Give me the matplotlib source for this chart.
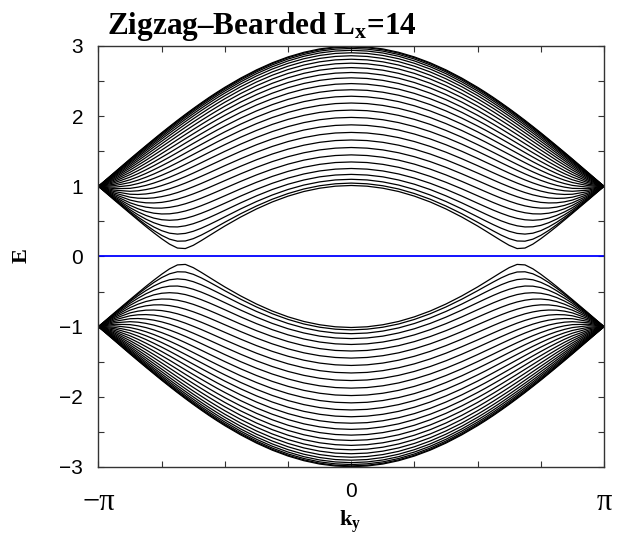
import numpy as np
import matplotlib
matplotlib.use("Agg")
import matplotlib.pyplot as plt
import matplotlib.transforms as mtransforms

# -----------------------------
# Band data (E > 0 branch), ky from 0 to pi
# -----------------------------
ky_over_pi = [0.0, 0.0625, 0.125, 0.1875, 0.25, 0.3125, 0.375, 0.4375, 0.5,
              0.53125, 0.5625, 0.59375, 0.625, 0.65625, 0.6875, 0.71875, 0.75,
              0.78125, 0.8125, 0.84375, 0.875, 0.9375, 1.0]

upper_bands = [
    [2.996, 2.986, 2.958, 2.910, 2.844, 2.760, 2.659, 2.542, 2.411, 2.340, 2.266, 2.188, 2.108, 2.025, 1.940, 1.852, 1.763, 1.671, 1.578, 1.484, 1.389, 1.195, 1.000],
    [2.984, 2.975, 2.946, 2.898, 2.833, 2.749, 2.648, 2.532, 2.400, 2.330, 2.256, 2.179, 2.099, 2.016, 1.931, 1.844, 1.755, 1.664, 1.572, 1.478, 1.384, 1.192, 1.000],
    [2.965, 2.955, 2.927, 2.879, 2.814, 2.730, 2.630, 2.514, 2.383, 2.313, 2.239, 2.163, 2.083, 2.001, 1.917, 1.831, 1.743, 1.653, 1.561, 1.469, 1.375, 1.187, 1.000],
    [2.938, 2.928, 2.900, 2.853, 2.787, 2.704, 2.605, 2.489, 2.359, 2.290, 2.216, 2.141, 2.062, 1.981, 1.897, 1.812, 1.725, 1.636, 1.546, 1.455, 1.364, 1.181, 1.000],
    [2.903, 2.894, 2.865, 2.818, 2.753, 2.671, 2.572, 2.458, 2.329, 2.260, 2.187, 2.112, 2.034, 1.954, 1.872, 1.788, 1.702, 1.615, 1.527, 1.438, 1.349, 1.172, 1.000],
    [2.861, 2.851, 2.823, 2.777, 2.712, 2.630, 2.532, 2.419, 2.292, 2.223, 2.152, 2.078, 2.001, 1.922, 1.841, 1.759, 1.675, 1.590, 1.504, 1.418, 1.332, 1.162, 1.000],
    [2.811, 2.802, 2.774, 2.728, 2.664, 2.583, 2.486, 2.374, 2.248, 2.180, 2.110, 2.037, 1.962, 1.884, 1.805, 1.724, 1.642, 1.560, 1.476, 1.393, 1.311, 1.150, 1.000],
    [2.755, 2.746, 2.718, 2.672, 2.609, 2.529, 2.433, 2.322, 2.198, 2.131, 2.062, 1.990, 1.917, 1.841, 1.763, 1.685, 1.605, 1.525, 1.445, 1.366, 1.287, 1.137, 1.000],
    [2.692, 2.682, 2.655, 2.610, 2.547, 2.468, 2.373, 2.264, 2.142, 2.076, 2.008, 1.938, 1.866, 1.792, 1.717, 1.640, 1.564, 1.487, 1.410, 1.335, 1.261, 1.122, 1.000],
    [2.622, 2.613, 2.586, 2.541, 2.479, 2.401, 2.307, 2.200, 2.080, 2.015, 1.949, 1.880, 1.810, 1.738, 1.665, 1.591, 1.517, 1.444, 1.371, 1.301, 1.232, 1.105, 1.000],
    [2.546, 2.537, 2.510, 2.466, 2.405, 2.327, 2.235, 2.129, 2.012, 1.949, 1.884, 1.817, 1.748, 1.679, 1.608, 1.538, 1.467, 1.397, 1.329, 1.263, 1.200, 1.088, 1.000],
    [2.464, 2.455, 2.428, 2.385, 2.324, 2.248, 2.158, 2.054, 1.938, 1.877, 1.813, 1.748, 1.682, 1.615, 1.547, 1.479, 1.413, 1.347, 1.284, 1.223, 1.167, 1.069, 1.000],
    [2.376, 2.368, 2.341, 2.298, 2.239, 2.164, 2.074, 1.972, 1.859, 1.800, 1.738, 1.675, 1.611, 1.546, 1.481, 1.417, 1.354, 1.293, 1.235, 1.180, 1.131, 1.050, 1.000],
    [2.284, 2.275, 2.249, 2.207, 2.148, 2.074, 1.986, 1.886, 1.776, 1.717, 1.657, 1.596, 1.535, 1.473, 1.411, 1.350, 1.292, 1.236, 1.183, 1.135, 1.093, 1.029, 1.000],
    [2.187, 2.179, 2.153, 2.111, 2.053, 1.980, 1.893, 1.795, 1.687, 1.631, 1.572, 1.513, 1.454, 1.395, 1.337, 1.280, 1.226, 1.175, 1.129, 1.088, 1.054, 1.009, 1.000],
    [2.086, 2.078, 2.053, 2.011, 1.954, 1.882, 1.796, 1.700, 1.594, 1.539, 1.483, 1.426, 1.369, 1.313, 1.258, 1.206, 1.157, 1.112, 1.072, 1.039, 1.013, 0.987, 1.000],
    [1.982, 1.974, 1.949, 1.908, 1.851, 1.780, 1.696, 1.601, 1.498, 1.444, 1.390, 1.335, 1.281, 1.228, 1.177, 1.129, 1.085, 1.046, 1.013, 0.988, 0.971, 0.966, 1.000],
    [1.876, 1.868, 1.843, 1.802, 1.745, 1.675, 1.592, 1.499, 1.398, 1.345, 1.293, 1.240, 1.188, 1.138, 1.091, 1.048, 1.010, 0.977, 0.953, 0.936, 0.929, 0.945, 1.000],
    [1.768, 1.760, 1.735, 1.694, 1.638, 1.568, 1.486, 1.393, 1.294, 1.243, 1.192, 1.142, 1.093, 1.046, 1.003, 0.964, 0.932, 0.907, 0.891, 0.884, 0.887, 0.925, 1.000],
    [1.660, 1.652, 1.627, 1.586, 1.530, 1.460, 1.378, 1.286, 1.189, 1.139, 1.089, 1.040, 0.994, 0.950, 0.911, 0.878, 0.853, 0.835, 0.828, 0.831, 0.845, 0.905, 1.000],
    [1.553, 1.544, 1.519, 1.478, 1.422, 1.352, 1.270, 1.178, 1.081, 1.032, 0.983, 0.936, 0.892, 0.852, 0.817, 0.790, 0.771, 0.763, 0.765, 0.779, 0.804, 0.886, 1.000],
    [1.448, 1.439, 1.414, 1.373, 1.316, 1.245, 1.162, 1.070, 0.973, 0.924, 0.876, 0.830, 0.788, 0.751, 0.721, 0.700, 0.689, 0.690, 0.703, 0.728, 0.765, 0.868, 1.000],
    [1.347, 1.339, 1.313, 1.271, 1.213, 1.141, 1.057, 0.964, 0.865, 0.816, 0.768, 0.723, 0.682, 0.648, 0.623, 0.608, 0.606, 0.617, 0.642, 0.680, 0.729, 0.852, 1.000],
    [1.254, 1.245, 1.219, 1.176, 1.117, 1.043, 0.957, 0.861, 0.759, 0.709, 0.660, 0.615, 0.575, 0.543, 0.523, 0.516, 0.524, 0.547, 0.585, 0.635, 0.695, 0.838, 1.000],
    [1.170, 1.161, 1.135, 1.090, 1.030, 0.954, 0.864, 0.764, 0.658, 0.605, 0.554, 0.507, 0.467, 0.437, 0.421, 0.423, 0.443, 0.481, 0.532, 0.595, 0.666, 0.826, 1.000],
    [1.100, 1.091, 1.063, 1.018, 0.955, 0.876, 0.783, 0.678, 0.565, 0.508, 0.453, 0.402, 0.359, 0.329, 0.319, 0.332, 0.368, 0.421, 0.487, 0.561, 0.642, 0.817, 1.000],
    [1.046, 1.036, 1.008, 0.962, 0.897, 0.816, 0.719, 0.609, 0.488, 0.425, 0.363, 0.304, 0.254, 0.221, 0.218, 0.247, 0.301, 0.371, 0.451, 0.536, 0.625, 0.810, 1.000],
    [1.012, 1.002, 0.973, 0.926, 0.860, 0.777, 0.677, 0.562, 0.434, 0.365, 0.295, 0.225, 0.159, 0.113, 0.120, 0.176, 0.253, 0.338, 0.427, 0.520, 0.614, 0.805, 1.000],
]

flat_band = 0.0

y_ticks = [-3, -2.5, -2, -1.5, -1, -0.5, 0, 0.5, 1, 1.5, 2, 2.5, 3]
y_tick_labels = ["\u22123", "", "\u22122", "", "\u22121", "", "0", "", "1", "", "2", "", "3"]

# -----------------------------
# Fonts
# -----------------------------
plt.rcParams["mathtext.fontset"] = "custom"
plt.rcParams["mathtext.rm"] = "Liberation Serif"
plt.rcParams["mathtext.bf"] = "Liberation Serif:bold"

fig = plt.figure(figsize=(6.3, 5.46), dpi=100)
ax = fig.add_axes([0.1563, 0.1447, 0.8024, 0.7711])

# -----------------------------
# Spectrum: both signs of E, mirrored in ky
# -----------------------------
kh = np.array(ky_over_pi) * np.pi
ky = np.concatenate([-kh[::-1], kh[1:]])
for band in upper_bands:
    b = np.array(band)
    e = np.concatenate([b[::-1], b[1:]])
    ax.plot(ky, e, color="black", lw=0.9)
    ax.plot(ky, -e, color="black", lw=0.9)
ax.axhline(flat_band, color="blue", lw=1.3)

ax.set_xlim(-np.pi, np.pi)
ax.set_ylim(-3, 3)

# -----------------------------
# Frame and ticks
# -----------------------------
for s in ax.spines.values():
    s.set_linewidth(1.0)
    s.set_color("#333333")
ax.set_xticks(np.arange(-4, 5) * np.pi / 4)
ax.set_xticklabels(["", "", "", "", "0", "", "", "", ""])
ax.set_yticks(y_ticks)
ax.set_yticklabels(y_tick_labels)
ax.tick_params(direction="in", length=4, width=0.8, top=True, right=True,
               labelsize=15, pad=11, color="#333333")
for lab in ax.get_xticklabels() + ax.get_yticklabels():
    lab.set_fontfamily("Liberation Sans")

trans = mtransforms.blended_transform_factory(ax.transData, ax.transAxes)
for x, s in [(-np.pi, "\u2212\u03c0"), (np.pi, "\u03c0")]:
    ax.text(x, -0.085, s, transform=trans, ha="center", va="center",
            fontsize=22, fontfamily="Liberation Serif")

# -----------------------------
# Labels and title
# -----------------------------
fig.text(350 / 630, 1 - 522 / 546, r"$\mathbf{k_y}$", ha="center", va="center", fontsize=16)
fig.text(22 / 630, 1 - 256 / 546, "E", rotation=90, ha="center", va="center",
         fontsize=16, fontweight="bold", fontfamily="Liberation Serif")
fig.text(107 / 630, 1 - 34 / 546, "Zigzag\u2013Bearded $\\mathbf{L_x}$=14",
         ha="left", va="baseline", fontsize=22.5, fontweight="bold",
         fontfamily="Liberation Serif")

fig.savefig("out.png")
